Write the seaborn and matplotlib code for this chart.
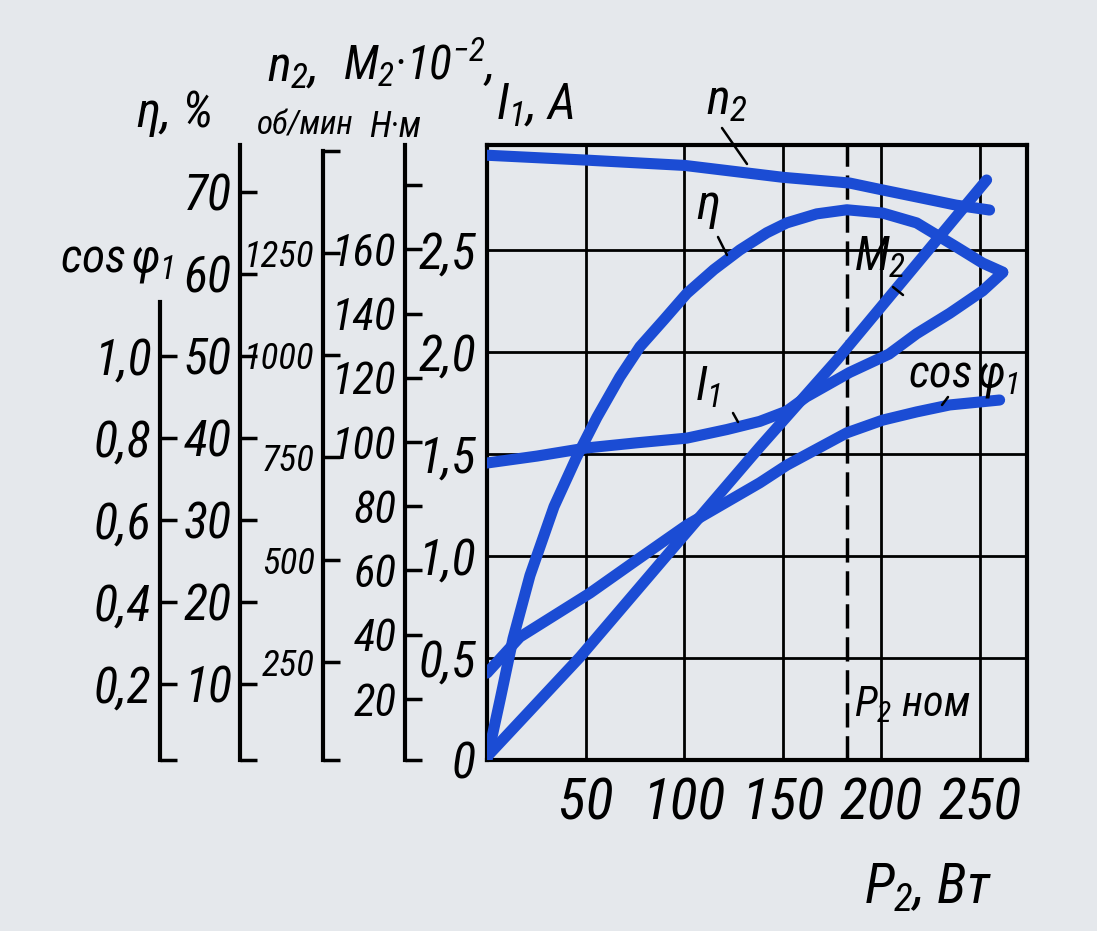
import matplotlib
matplotlib.use("Agg")
import matplotlib.pyplot as plt
from matplotlib import font_manager
from matplotlib.lines import Line2D
import seaborn as sns

# ---- values (P2 in W) ----
p2_n = [0, 50.7, 100.4, 150.1, 184, 200.8, 218, 238, 255]
n2 = [1489, 1477, 1464, 1435, 1421, 1404, 1387, 1367, 1355]          # rpm

p2_eta = [0, 6.6, 13.2, 21.8, 34.0, 45.6, 55.8, 67.4, 77.6, 89.8, 101.4,
          115.1, 128.3, 142.0, 152.1, 167.3, 182.6, 200.8, 218, 238, 251.5, 261.7]
eta = [0.7, 8.0, 15.5, 23.2, 31.6, 37.7, 42.5, 47.4, 51.1, 54.4, 57.6,
       60.5, 62.9, 65.0, 66.2, 67.3, 67.8, 67.4, 66.2, 63.3, 61.3, 60.2]  # %

p2_m = [0, 47.2, 89.2, 138.4, 177.5, 253.5]
m2 = [2, 33, 63.2, 98.4, 125.5, 181.6]                                # 10^-2 N*m

p2_i = [0, 25.4, 50.7, 76, 101.4, 121.7, 138.4, 152, 162, 184,
        204, 218, 234.8, 251.5, 261.7]
i1 = [1.456, 1.49, 1.53, 1.555, 1.578, 1.62, 1.66, 1.71, 1.78, 1.90,
      1.99, 2.09, 2.19, 2.30, 2.39]                                   # A

p2_cos = [0, 16.7, 52.2, 76.1, 101.4, 138.4, 152.1, 182.6, 200.8, 218, 234.8, 260.1]
cos_phi = [0.226, 0.314, 0.421, 0.502, 0.587, 0.690, 0.733, 0.812, 0.843, 0.863, 0.88, 0.892]

p2_nom = 182.5

x_ticks = [50, 100, 150, 200, 250]
i1_ticks = [0, 0.5, 1.0, 1.5, 2.0, 2.5]
i1_labels = ["0", "0,5", "1,0", "1,5", "2,0", "2,5"]
cos_ticks = [0.2, 0.4, 0.6, 0.8, 1.0]
cos_labels = ["0,2", "0,4", "0,6", "0,8", "1,0"]
eta_ticks = [10, 20, 30, 40, 50, 60, 70]
n2_ticks = [250, 500, 750, 1000, 1250]
m2_ticks = [20, 40, 60, 80, 100, 120, 140, 160]

BLUE = "#1b4cd4"
PAPER = "#e5e8ec"

sns.set_theme(style="white")

# pick a narrow face if one is installed (the original lettering is very condensed)
faces = font_manager.fontManager.ttflist


def has(name, stretch=None):
    return any(f.name == name and (stretch is None or f.stretch == stretch) for f in faces)


base, stretch, k = "DejaVu Sans", "normal", 0.75
for name, st, kk in [("Liberation Sans Narrow", "normal", 1.0),
                     ("Roboto Condensed", "normal", 0.95),
                     ("DejaVu Sans", "condensed", 0.85)]:
    if has(name, None if st == "normal" else st):
        base, stretch, k = name, st, kk
        break

plt.rcParams["font.family"] = [base, "DejaVu Sans"]
plt.rcParams["font.style"] = "italic"
plt.rcParams["font.stretch"] = stretch
plt.rcParams["mathtext.fontset"] = "custom"
pat = base + ":italic" + (":condensed" if stretch == "condensed" else "")
plt.rcParams["mathtext.it"] = pat
plt.rcParams["mathtext.rm"] = pat
plt.rcParams["text.color"] = "black"

W, H = 1097, 931
fig = plt.figure(figsize=(W / 100, H / 100), dpi=100)
fig.patch.set_facecolor(PAPER)
ax = fig.add_axes([487 / W, 1 - 760 / H, 540 / W, 615 / H])
ax.set_facecolor(PAPER)
ax.set_xlim(0, 274)
ax.set_ylim(0, 3.015)
for s in ax.spines.values():
    s.set_color("black")
    s.set_linewidth(3)
ax.set_xticks(x_ticks)
ax.set_yticks(i1_ticks, i1_labels)
ax.grid(True, color="black", linewidth=2)
ax.set_axisbelow(True)
ax.tick_params(axis="x", length=0, pad=12, labelsize=44 * k, labelcolor="black")
ax.tick_params(axis="y", length=0, pad=8, labelsize=38 * k, labelcolor="black")
ax.axvline(p2_nom, color="black", linewidth=2.5, dashes=(7, 2.5))

lw = 8
sns.lineplot(x=p2_i, y=i1, ax=ax, color=BLUE, linewidth=lw, sort=False,
             solid_capstyle="round", zorder=3)


def scale_axis(lim, offset, ticks, labels, top=None, size=38):
    tw = ax.twinx()
    tw.set_ylim(*lim)
    for s in ("top", "right", "bottom"):
        tw.spines[s].set_visible(False)
    sp = tw.spines["left"]
    sp.set_visible(True)
    sp.set_position(("axes", offset))
    sp.set_linewidth(3)
    sp.set_color("black")
    sp.set_bounds(lim[0], top if top is not None else lim[1])
    tw.yaxis.set_ticks_position("left")
    tw.set_yticks(ticks, labels)
    tw.tick_params(axis="y", direction="in", length=12, width=2.5,
                   color="black", pad=6, labelsize=size * k, labelcolor="black")
    return tw


cos_lim = (0.014, 1.514)
tw_cos = scale_axis(cos_lim, -0.6056, [cos_lim[0]] + cos_ticks,
                    [""] + cos_labels, top=1.13)
eta_lim = (0.7, 75.7)
tw_eta = scale_axis(eta_lim, -0.4574, [eta_lim[0]] + eta_ticks,
                    [""] + [str(v) for v in eta_ticks])
n2_lim = (10.4, 1514)
tw_n2 = scale_axis(n2_lim, -0.3037, [n2_lim[0]] + n2_ticks + [1500],
                   [""] + [str(v) for v in n2_ticks] + [""], top=1500, size=28)
m2_lim = (0.93, 192.5)
tw_m2 = scale_axis(m2_lim, -0.1519, [m2_lim[0]] + m2_ticks + [180],
                   [""] + [str(v) for v in m2_ticks] + [""], size=34)

sns.lineplot(x=p2_n, y=n2, ax=tw_n2, color=BLUE, linewidth=lw, sort=False,
             solid_capstyle="round")
sns.lineplot(x=p2_eta, y=eta, ax=tw_eta, color=BLUE, linewidth=lw, sort=False,
             solid_capstyle="round")
sns.lineplot(x=p2_m, y=m2, ax=tw_m2, color=BLUE, linewidth=lw, sort=False,
             solid_capstyle="round")
sns.lineplot(x=p2_cos, y=cos_phi, ax=tw_cos, color=BLUE, linewidth=lw, sort=False,
             solid_capstyle="round")
for tw in (tw_cos, tw_eta, tw_n2, tw_m2):
    tw.set_xlim(0, 274)
    tw.set_ylabel("")
    tw.set_xlabel("")
ax.set_xlabel("")
ax.set_ylabel("")


def ftext(x, y, s, size, **kw):
    fig.text(x / W, 1 - y / H, s, ha="center", va="center", fontsize=size * k, **kw)


def leader(x0, y0, x1, y1):
    fig.add_artist(Line2D([x0 / W, x1 / W], [1 - y0 / H, 1 - y1 / H],
                          color="black", linewidth=1.8))


# scale headers
ftext(175, 113, "η, %", 38)
ftext(117, 262, r"cos$\,\varphi_1$", 36)
ftext(292, 67, r"$n_2$,", 38)
ftext(305, 125, "об/мин", 25)
ftext(418, 62, r"$M_2$·10$^{-2}$,", 36)
ftext(395, 127, "Н·м", 27)
ftext(535, 105, r"$I_1$, A", 38)

# curve labels
ftext(727, 100, r"$n_2$", 38)
leader(722, 128, 747, 164)
ftext(708, 205, "η", 38)
leader(718, 237, 727, 255)
ftext(880, 258, r"$M_2$", 36)
leader(893, 287, 903, 295)
ftext(708, 388, r"$I_1$", 36)
leader(733, 413, 738, 422)
ftext(963, 378, r"cos$\,\varphi_1$", 35)
leader(942, 405, 948, 397)

ftext(912, 705, r"$P_2$ ном", 32)
ftext(928, 888, r"$P_2$, Вт", 42)

fig.savefig("out.png", dpi=100, facecolor=PAPER)
